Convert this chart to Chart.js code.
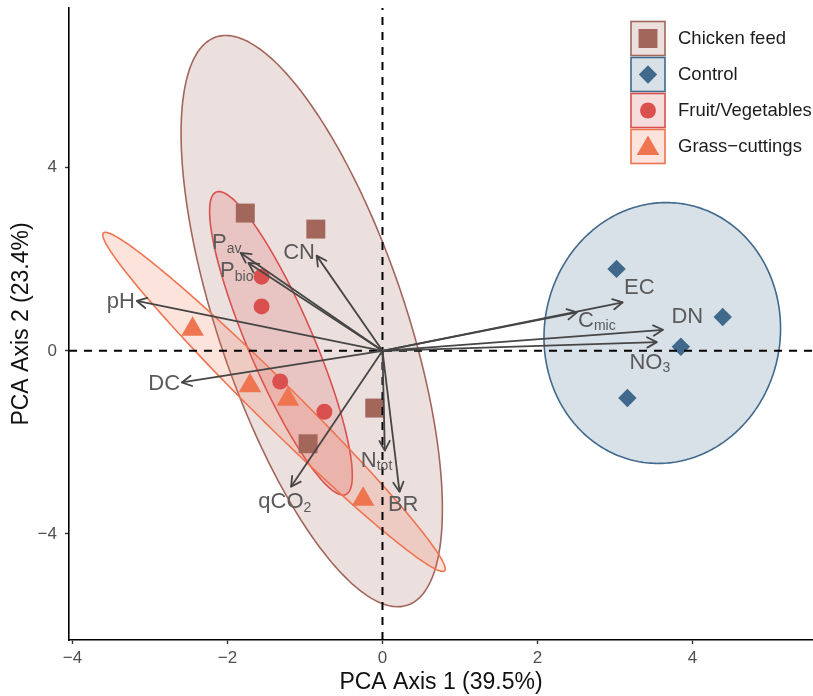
<!DOCTYPE html>
<html>
<head>
<meta charset="utf-8">
<title>PCA biplot</title>
<script src="https://cdn.jsdelivr.net/npm/chart.js@4/dist/chart.umd.min.js"></script>
<style>
  html, body { margin: 0; padding: 0; background: #ffffff; }
  #box { width: 813px; height: 696px; }
</style>
</head>
<body>
<div id="box"><canvas id="pca" width="813" height="696"></canvas></div>
<script>
// ---------- data ----------
const groups = ['Chicken feed', 'Control', 'Fruit/Vegetables', 'Grass\u2212cuttings'];

// sample scores on PCA axes 1 and 2
const chickenX = [-1.77, -0.86, -0.10, -0.96];
const chickenY = [3.01, 2.66, -1.25, -2.03];
const controlX = [3.02, 4.39, 3.85, 3.16];
const controlY = [1.79, 0.74, 0.09, -1.03];
const fruitX = [-1.56, -1.56, -1.32, -0.75];
const fruitY = [1.62, 0.97, -0.67, -1.33];
const grassX = [-2.45, -1.71, -1.22, -0.25];
const grassY = [0.47, -0.76, -1.06, -3.24];

// confidence ellipses: centre and spread matrix per group
const ellipseCx = [-0.913, 3.61, -1.31, -1.40];
const ellipseCy = [0.65, 0.39, 0.165, -1.115];
const ellipseVarX = [2.843, 2.33, 0.848, 4.881];
const ellipseVarY = [38.94, 8.12, 10.99, 13.72];
const ellipseCov = [-6.92, 0.15, -2.655, -8.06];

// variable loadings (arrow tips)
const loadingNames = ['pH', 'Pav', 'Pbio', 'CN', 'DC', 'qCO2', 'Ntot', 'BR', 'EC', 'Cmic', 'DN', 'NO3'];
const loadingX = [-3.17, -1.83, -1.73, -0.85, -2.59, -1.18, 0.03, 0.22, 3.10, 2.51, 3.62, 3.54];
const loadingY = [1.09, 2.14, 1.92, 2.08, -0.69, -2.97, -2.18, -3.08, 1.06, 0.84, 0.46, 0.19];
// label text as [main, subscript]
const loadingLabels = [['pH', ''], ['P', 'av'], ['P', 'bio'], ['CN', ''], ['DC', ''], ['qCO', '2'],
                       ['N', 'tot'], ['BR', ''], ['EC', ''], ['C', 'mic'], ['DN', ''], ['NO', '3']];

const xTickValues = [-4, -2, 0, 2, 4];
const yTickValues = [-4, 0, 4];
const xTitle = 'PCA Axis 1 (39.5%)';
const yTitle = 'PCA Axis 2 (23.4%)';

// ---------- styles / layout ----------
const FONT = '"Liberation Sans", Arial, Helvetica, sans-serif';
const X_MIN = -4.045, X_MAX = 5.555, Y_MIN = -6.317, Y_MAX = 7.49;
const groupColors = ['#a2665b', '#40698b', '#d9504f', '#ee7550'];
const groupShapes = ['rect', 'rectRot', 'circle', 'triangle'];
const groupRadius = [13.4, 9.2, 8, 13];
const ARROW_COLOR = '#464646';
const LABEL_COLOR = '#5a5a5a';
const MAIN_SIZE = 22, SUB_SIZE = 14;

// label placement relative to the arrow tip (pixels)
const labelLayout = [
  {align: 'right', dx: -2, dy: -1},      // pH
  {align: 'left', dx: -28.7, dy: -11.3}, // Pav
  {align: 'left', dx: -28.3, dy: 6.4},   // Pbio
  {align: 'right', dx: -1.7, dy: -5},    // CN
  {align: 'right', dx: -1.7, dy: 0},     // DC
  {align: 'left', dx: -32.7, dy: 13.8},  // qCO2
  {align: 'left', dx: -24, dy: 8.3},     // Ntot
  {align: 'left', dx: -11.6, dy: 11.3},  // BR
  {align: 'left', dx: 1.3, dy: -16.2},   // EC
  {align: 'left', dx: 1, dy: 6.3},       // Cmic
  {align: 'left', dx: 8.4, dy: -15},     // DN
  {align: 'left', dx: -27.4, dy: 18.7}   // NO3
];

function rgba(hex, a) {
  const n = parseInt(hex.slice(1), 16);
  return 'rgba(' + (n >> 16 & 255) + ',' + (n >> 8 & 255) + ',' + (n & 255) + ',' + a + ')';
}

// outline of a group's ellipse from its centre and spread matrix
function ellipsePoints(i) {
  const sx = Math.sqrt(ellipseVarX[i]);
  const k = ellipseCov[i] / sx;
  const sy = Math.sqrt(ellipseVarY[i] - k * k);
  const pts = [];
  const n = 160;
  for (let j = 0; j <= n; j++) {
    const t = 2 * Math.PI * j / n;
    const c = Math.cos(t), s = Math.sin(t);
    pts.push({x: ellipseCx[i] + sx * c, y: ellipseCy[i] + k * c + sy * s});
  }
  return pts;
}

const sampleSets = [[chickenX, chickenY], [controlX, controlY], [fruitX, fruitY], [grassX, grassY]];
const datasets = [];

groups.forEach((g, i) => {
  datasets.push({
    type: 'line', label: g + ' ellipse', data: ellipsePoints(i),
    borderColor: groupColors[i], borderWidth: 1.6,
    backgroundColor: rgba(groupColors[i], 0.2), fill: 'shape',
    pointRadius: 0, pointHoverRadius: 0, tension: 0.01, order: 40 - i
  });
});

groups.forEach((g, i) => {
  const xs = sampleSets[i][0], ys = sampleSets[i][1];
  datasets.push({
    type: 'scatter', label: g, data: xs.map((x, k) => ({x: x, y: ys[k]})),
    pointStyle: groupShapes[i], pointRadius: groupRadius[i], pointHoverRadius: groupRadius[i],
    pointBackgroundColor: groupColors[i], pointBorderWidth: 0, order: 20 - i
  });
});

// dashed zero lines
datasets.push({
  type: 'line', label: 'zero-h', data: [{x: X_MIN, y: 0}, {x: X_MAX, y: 0}],
  borderColor: '#000000', borderWidth: 2, borderDash: [8, 7], pointRadius: 0, fill: false, order: 10
});
datasets.push({
  type: 'line', label: 'zero-v', data: [{x: 0, y: Y_MIN}, {x: 0, y: Y_MAX}],
  borderColor: '#000000', borderWidth: 2, borderDash: [8, 7], pointRadius: 0, fill: false, order: 10
});

// loading arrow shafts
loadingNames.forEach((name, k) => {
  datasets.push({
    type: 'line', label: name, data: [{x: 0, y: 0}, {x: loadingX[k], y: loadingY[k]}],
    borderColor: ARROW_COLOR, borderWidth: 1.8, pointRadius: 0, fill: false, order: 1
  });
});

const biplotDecor = {
  id: 'biplotDecor',
  afterDatasetsDraw(chart) {
    const ctx = chart.ctx;
    const xs = chart.scales.x, ys = chart.scales.y;
    const ox = xs.getPixelForValue(0), oy = ys.getPixelForValue(0);
    ctx.save();
    // arrow heads
    ctx.strokeStyle = ARROW_COLOR;
    ctx.lineWidth = 1.8;
    ctx.lineCap = 'round';
    ctx.lineJoin = 'round';
    loadingNames.forEach((name, k) => {
      const tx = xs.getPixelForValue(loadingX[k]), ty = ys.getPixelForValue(loadingY[k]);
      const ang = Math.atan2(ty - oy, tx - ox);
      const len = 11, spread = 28 * Math.PI / 180;
      ctx.beginPath();
      ctx.moveTo(tx - len * Math.cos(ang - spread), ty - len * Math.sin(ang - spread));
      ctx.lineTo(tx, ty);
      ctx.lineTo(tx - len * Math.cos(ang + spread), ty - len * Math.sin(ang + spread));
      ctx.stroke();
    });
    // variable labels
    const mainFont = MAIN_SIZE + 'px ' + FONT, subFont = SUB_SIZE + 'px ' + FONT;
    ctx.fillStyle = LABEL_COLOR;
    ctx.textAlign = 'left';
    ctx.textBaseline = 'alphabetic';
    loadingNames.forEach((name, k) => {
      const lay = labelLayout[k];
      const main = loadingLabels[k][0], sub = loadingLabels[k][1];
      const tx = xs.getPixelForValue(loadingX[k]), ty = ys.getPixelForValue(loadingY[k]);
      ctx.font = mainFont;
      const wMain = ctx.measureText(main).width;
      ctx.font = subFont;
      const wSub = sub ? ctx.measureText(sub).width : 0;
      let left = tx + lay.dx;
      if (lay.align === 'right') left -= wMain + wSub;
      const base = ty + lay.dy + 0.358 * MAIN_SIZE;
      ctx.font = mainFont;
      ctx.fillText(main, left, base);
      if (sub) {
        ctx.font = subFont;
        ctx.fillText(sub, left + wMain, base + 3.5);
      }
    });
    ctx.restore();
  },
  afterDraw(chart) {
    // legend: boxed keys with the group symbol
    const ctx = chart.ctx;
    const keyX = 648, keyHalf = 17, firstRow = 38.5, rowStep = 36, textX = 678;
    ctx.save();
    groups.forEach((g, i) => {
      const cy = firstRow + i * rowStep;
      ctx.fillStyle = '#ffffff';
      ctx.fillRect(keyX - keyHalf, cy - keyHalf, keyHalf * 2, keyHalf * 2);
      ctx.fillStyle = rgba(groupColors[i], 0.2);
      ctx.fillRect(keyX - keyHalf, cy - keyHalf, keyHalf * 2, keyHalf * 2);
      ctx.strokeStyle = groupColors[i];
      ctx.lineWidth = 1.6;
      ctx.strokeRect(keyX - keyHalf, cy - keyHalf, keyHalf * 2, keyHalf * 2);
      ctx.fillStyle = groupColors[i];
      Chart.helpers.drawPoint(ctx, {pointStyle: groupShapes[i], radius: groupRadius[i], rotation: 0, borderWidth: 0},
                              keyX, cy + (groupShapes[i] === 'triangle' ? 2 : 0));
      ctx.fillStyle = '#1c1c1c';
      ctx.font = '18.5px ' + FONT;
      ctx.textAlign = 'left';
      ctx.textBaseline = 'middle';
      ctx.fillText(g, textX, cy + 0.5);
    });
    ctx.restore();
  }
};

const minusFmt = v => (v < 0 ? '\u2212' + Math.abs(v) : String(v));

new Chart(document.getElementById('pca'), {
  type: 'scatter',
  data: {datasets: datasets},
  plugins: [biplotDecor],
  options: {
    responsive: false,
    animation: false,
    devicePixelRatio: 1,
    events: [],
    layout: {padding: {top: 8, left: 0, right: 0, bottom: 0}, autoPadding: false},
    plugins: {legend: {display: false}, tooltip: {enabled: false}},
    scales: {
      x: {
        type: 'linear', min: X_MIN, max: X_MAX,
        border: {display: true, color: '#000000', width: 1.6},
        grid: {display: true, drawOnChartArea: false, drawTicks: true, tickLength: 4,
               tickColor: '#333333', tickWidth: 1.4},
        ticks: {padding: 4, color: '#505050', font: {family: FONT, size: 17}, maxRotation: 0,
                autoSkip: false, callback: minusFmt},
        afterBuildTicks: s => { s.ticks = xTickValues.map(v => ({value: v})); },
        afterFit: s => { s.height = 56; s.paddingLeft = 0; s.paddingRight = 0; },
        title: {display: true, text: xTitle, color: '#111111', font: {family: FONT, size: 23},
                padding: {top: 0, bottom: 0}}
      },
      y: {
        type: 'linear', min: Y_MIN, max: Y_MAX,
        border: {display: true, color: '#000000', width: 1.6},
        grid: {display: true, drawOnChartArea: false, drawTicks: true, tickLength: 4,
               tickColor: '#333333', tickWidth: 1.4},
        ticks: {padding: 8, color: '#505050', font: {family: FONT, size: 17}, autoSkip: false,
                callback: minusFmt},
        afterBuildTicks: s => { s.ticks = yTickValues.map(v => ({value: v})); },
        afterFit: s => { s.width = 69; s.paddingTop = 0; s.paddingBottom = 0; },
        title: {display: true, text: yTitle, color: '#111111', font: {family: FONT, size: 23},
                padding: {top: 8, bottom: 0}}
      }
    }
  }
});
</script>
</body>
</html>
